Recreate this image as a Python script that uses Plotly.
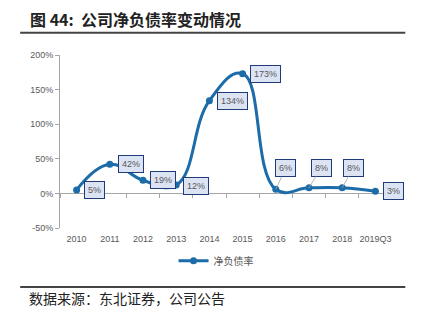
import plotly.graph_objects as go

categories = ["2010", "2011", "2012", "2013", "2014", "2015", "2016", "2017", "2018", "2019Q3"]
net_debt_ratio = [0.05, 0.42, 0.19, 0.12, 1.34, 1.73, 0.06, 0.08, 0.08, 0.03]
label_text = ["5%", "42%", "19%", "12%", "134%", "173%", "6%", "8%", "8%", "3%"]
label_dx = [18, 21, 20, 20, 23, 23, 10, 12, 11, 18]
label_dy = [0, 0, 0, 1, 0, 0, -21, -20, -20, 0]
leader = [False, False, False, False, False, False, True, True, True, False]
y_ticks = [-0.5, 0, 0.5, 1.0, 1.5, 2.0]
y_tick_text = ["-50%", "0%", "50%", "100%", "150%", "200%"]

line_color = "#1B6CA8"
gray = "#A6A6A6"
txt_gray = "#595959"

fig = go.Figure()
fig.add_trace(go.Scatter(
    x=categories, y=net_debt_ratio, mode="lines+markers", name="净负债率",
    line=dict(color=line_color, width=3, shape="spline", smoothing=1.25),
    marker=dict(color=line_color, size=7),
    hoverinfo="skip",
))
# invisible trace for tick axis on zero line
fig.add_trace(go.Scatter(
    x=categories, y=net_debt_ratio, mode="lines", xaxis="x2", yaxis="y",
    line=dict(color="rgba(0,0,0,0)"), showlegend=False, hoverinfo="skip",
))

for i, (v, t, dx, dy, ld) in enumerate(zip(net_debt_ratio, label_text, label_dx, label_dy, leader)):
    fig.add_annotation(
        x=i, y=v, xref="x", yref="y", text=t, showarrow=True,
        ax=dx, ay=dy, axref="pixel", ayref="pixel",
        arrowhead=0, arrowwidth=0.8,
        arrowcolor=gray if ld else "rgba(0,0,0,0)",
        font=dict(family="Liberation Sans, Arial", size=9, color=txt_gray),
        bgcolor="#DCE3F3", bordercolor="#1F3B7A", borderwidth=1, borderpad=3,
    )

fig.update_layout(
    width=421, height=328,
    margin=dict(l=60, r=29, t=55, b=100),
    paper_bgcolor="white", plot_bgcolor="white",
    font=dict(family="Liberation Sans, Arial", size=9, color=txt_gray),
    showlegend=True,
    legend=dict(orientation="h", x=0.47, xanchor="center", y=-0.19, yanchor="middle",
                font=dict(family="Noto Sans CJK SC", size=10, color=txt_gray),
                itemwidth=30),
    xaxis=dict(type="category", range=[-0.5, 9.5], showline=False, showgrid=False,
               zeroline=False, ticks="", ticklabelstandoff=4,
               tickfont=dict(size=9, color=txt_gray)),
    xaxis2=dict(type="category", range=[-0.5, 9.5], overlaying="x", anchor="free",
                position=0.2, side="bottom", showline=False, showgrid=False,
                showticklabels=False, ticks="outside", tickson="boundaries",
                ticklen=4, tickcolor=gray, tickwidth=1),
    yaxis=dict(range=[-0.5, 2.0], tickvals=y_ticks, ticktext=y_tick_text,
               showgrid=False, showline=True, linecolor=gray, linewidth=1,
               ticks="outside", ticklen=4, tickcolor=gray,
               zeroline=True, zerolinecolor=gray, zerolinewidth=1,
               tickfont=dict(size=9, color=txt_gray)),
)

fig.add_annotation(xref="paper", yref="paper", x=-0.095, y=1.21, xanchor="left", yanchor="middle",
                   text="<b>图 44:  公司净负债率变动情况</b>", showarrow=False,
                   font=dict(family="Noto Sans CJK SC", size=16, color="#222222"))
fig.add_annotation(xref="paper", yref="paper", x=-0.10, y=-0.405, xanchor="left", yanchor="middle",
                   text="数据来源：东北证券，公司公告", showarrow=False,
                   font=dict(family="Noto Sans CJK SC", size=14, color="#222222"))

fig.add_shape(type="line", xref="paper", yref="paper", x0=-0.12, x1=1.04, y0=1.129, y1=1.129,
              line=dict(color="#444444", width=2))
fig.add_shape(type="line", xref="paper", yref="paper", x0=-0.12, x1=1.04, y0=-0.341, y1=-0.341,
              line=dict(color="#444444", width=2))

fig.write_html("out.html")
